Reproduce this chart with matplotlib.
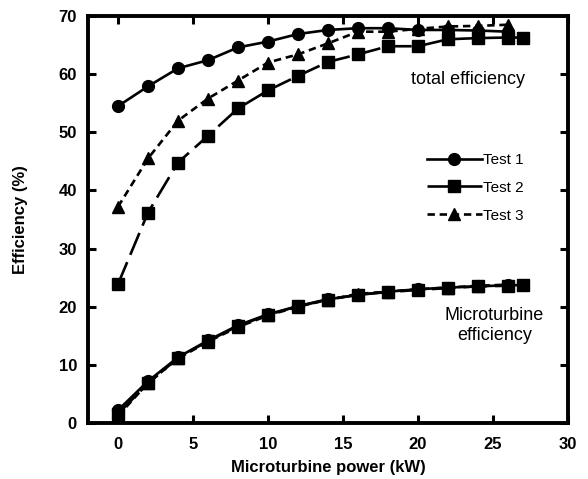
import matplotlib.pyplot as plt

plt.rcParams['font.family'] = ['Liberation Sans', 'DejaVu Sans']

# total efficiency, %
power_1 = [0, 2, 4, 6, 8, 10, 12, 14, 16, 18, 20, 22, 24, 26]
total_1 = [54.5, 57.9, 61.0, 62.4, 64.6, 65.6, 66.9, 67.6, 67.9, 67.9, 67.6, 67.6, 67.5, 67.3]
power_2 = [0, 2, 4, 6, 8, 10, 12, 14, 16, 18, 20, 22, 24, 26, 27]
total_2 = [23.9, 36.2, 44.8, 49.4, 54.1, 57.2, 59.7, 62.1, 63.4, 64.8, 64.8, 66.0, 66.2, 66.3, 66.3]
power_3 = [0, 2, 4, 6, 8, 10, 12, 14, 16, 18, 20, 22, 24, 26]
total_3 = [37.2, 45.5, 52.0, 55.8, 58.9, 62.0, 63.4, 65.3, 67.3, 67.3, 67.8, 68.2, 68.3, 68.5]

# microturbine efficiency, %
micro_1 = [2.2, 7.2, 11.3, 14.2, 16.8, 18.7, 20.1, 21.3, 22.0, 22.6, 23.0, 23.3, 23.5, 23.7]
micro_2 = [1.6, 6.8, 11.2, 14.1, 16.7, 18.6, 20.1, 21.2, 22.1, 22.5, 22.9, 23.2, 23.5, 23.6, 23.8]
micro_3 = [1.2, 6.9, 11.1, 14.0, 16.5, 18.5, 20.0, 21.2, 22.2, 22.6, 23.0, 23.3, 23.6, 23.8]

fig = plt.figure(figsize=(5.88, 4.79), dpi=100)
ax = fig.add_axes([0.1497, 0.1169, 0.8163, 0.8497])

lw = 1.9
ms = 8.5
dash2 = (0, (9, 3))
dash3 = (0, (2.8, 1.8))

ax.plot(power_1, total_1, '-', color='black', lw=lw, marker='o', ms=ms, label='Test 1')
ax.plot(power_2, total_2, linestyle=dash2, color='black', lw=lw, marker='s', ms=ms, label='Test 2')
ax.plot(power_3, total_3, linestyle=dash3, color='black', lw=lw, marker='^', ms=ms, label='Test 3')

ax.plot(power_1, micro_1, '-', color='black', lw=lw, marker='o', ms=ms)
ax.plot(power_2, micro_2, linestyle=dash2, color='black', lw=lw, marker='s', ms=ms)
ax.plot(power_3, micro_3, linestyle=dash3, color='black', lw=lw, marker='^', ms=ms)

ax.set_xlim(-2, 30)
ax.set_ylim(0, 70)
ax.set_xticks(range(0, 31, 5))
ax.set_yticks(range(0, 71, 10))

for s in ax.spines.values():
    s.set_linewidth(2.8)
ax.tick_params(direction='in', length=6, width=2.2, top=True, right=True,
               labelsize=12, pad=8)
ax.tick_params(axis='x', pad=10)
for lab in ax.get_xticklabels() + ax.get_yticklabels():
    lab.set_fontweight('bold')

ax.set_xlabel('Microturbine power (kW)', fontsize=12, fontweight='bold', labelpad=6)
ax.set_ylabel('Efficiency (%)', fontsize=12, fontweight='bold', labelpad=22)

ax.text(27.1, 59, 'total efficiency', fontsize=13, ha='right', va='center')
ax.text(25.1, 16.8, 'Microturbine\nefficiency', fontsize=13, ha='center', va='center',
        linespacing=1.25)

ax.legend(loc='upper left', bbox_to_anchor=(0.677, 0.697), frameon=False,
          fontsize=11, handlelength=3.6, handletextpad=0.1, labelspacing=0.9)

fig.savefig('out.png', dpi=100)
